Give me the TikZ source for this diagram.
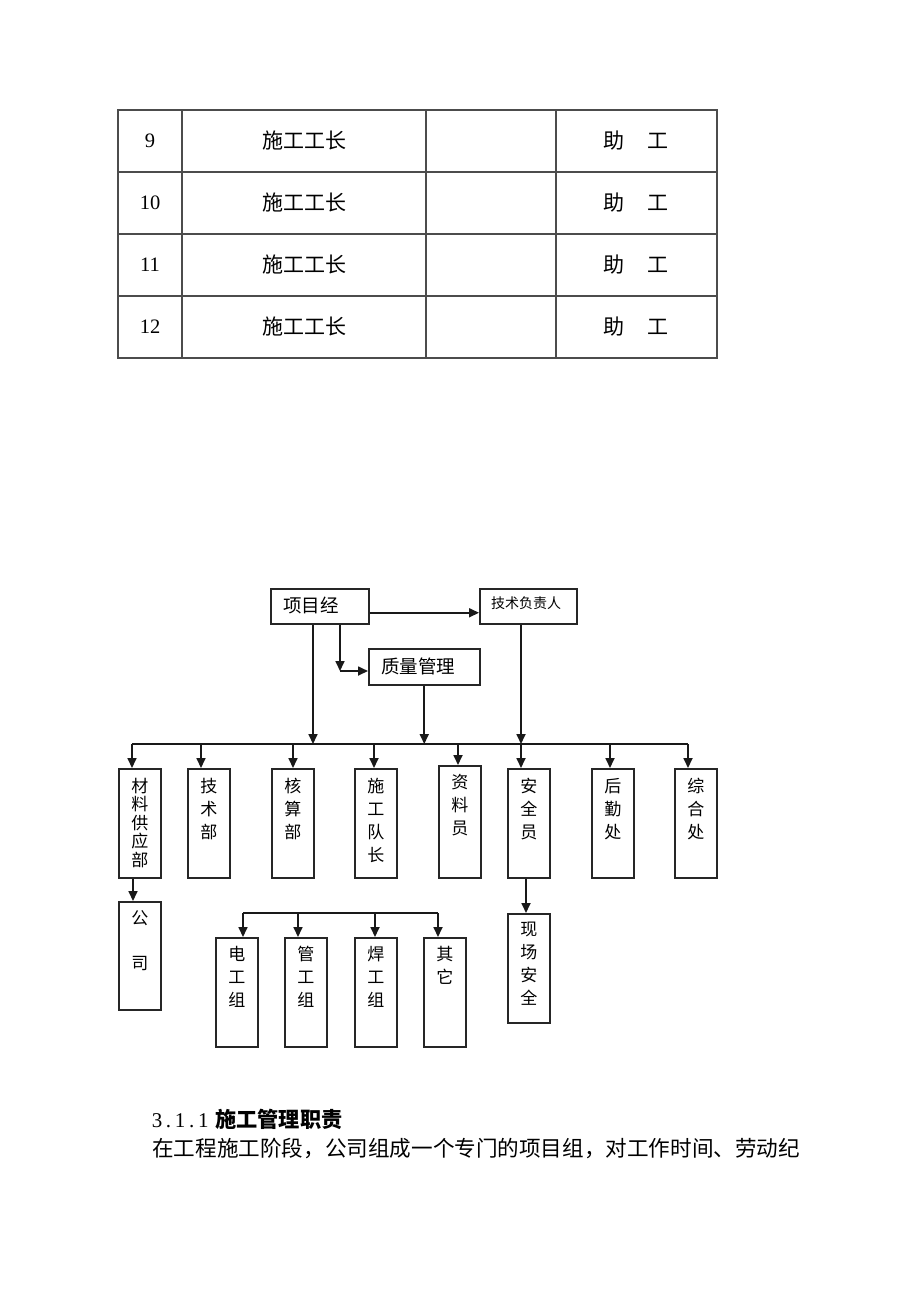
\documentclass[tikz,border=0pt]{standalone}
\usepackage{fontspec}
\setmainfont{Liberation Serif}
\newfontfamily\cjk{Noto Sans CJK SC}
\usetikzlibrary{arrows.meta}
\newcommand\hwc[1]{\makebox[11.6pt][c]{#1}}
\begin{document}
\begin{tikzpicture}[x=1pt,y=-1pt,
  ln/.style={line width=1.7pt, black!90},
  arr/.style={ln, -{Triangle[length=10pt,width=9pt]}},
  bx/.style={draw, line width=1.5pt, black!85, inner sep=0pt, anchor=north west},
  vb/.style={bx, minimum width=42pt, minimum height=109pt},
  vt/.style={font=\cjk\fontsize{17}{23}\selectfont, align=center, inner sep=0pt, anchor=north},
  tb/.style={line width=1.15pt, black!70},
  tnum/.style={font=\fontsize{20.5}{20.5}\selectfont, inner sep=0pt},
  tcj/.style={font=\cjk\fontsize{21}{21}\selectfont, inner sep=0pt}
]
\useasboundingbox (0,0) rectangle (920,1302);
\fill[white] (0,0) rectangle (920,1302);

% ---------- table ----------
\draw[tb] (118,110) rectangle (717,358);
\foreach \y in {172,234,296} \draw[tb] (118,\y) -- (717,\y);
\foreach \x in {182,426,556} \draw[tb] (\x,110) -- (\x,358);
\foreach \n/\y in {9/141,10/203,11/265,12/327} {
  \node[tnum] (num\n) at (150,\y) {\n};
  \node[tcj] (job\n) at (304,\y) {施工工长};
  \node[tcj] (rank\n) at (636,\y) {助\hspace{1.05em}工};
}

% ---------- top of chart ----------
\node[bx, minimum width=98pt, minimum height=35pt] (pm) at (270,588) {};
\node[font=\cjk\fontsize{18.5}{18.5}\selectfont, anchor=west, inner sep=0pt] (pmt) at (283,605) {项目经};
\node[bx, minimum width=97pt, minimum height=35pt] (tech) at (479,588) {};
\node[font=\cjk\fontsize{14}{14}\selectfont, inner sep=0pt] (techt) at (526,603) {技术负责人};
\node[bx, minimum width=111pt, minimum height=36pt] (zl) at (368,648) {};
\node[font=\cjk\fontsize{18.5}{18.5}\selectfont, anchor=west, inner sep=0pt] (zlt) at (381,666) {质量管理};

\draw[arr] ([yshift=-6.5pt]pm.east) -- ([yshift=-6.5pt]tech.west);
\coordinate (k1) at (340,671);
\draw[arr] (pm.south -| k1) -- (k1);
\draw[arr] (k1) -- (zl.west |- k1);

% bus 1
\coordinate (bL) at (132,744);
\coordinate (bR) at (688,744);
\draw[ln] (bL) -- (bR);
\coordinate (bpm) at (313,744);
\coordinate (btech) at (521,744);
\draw[arr] (pm.south -| bpm) -- (bpm);
\draw[arr] (zl.south) -- (zl.south |- bL);
\draw[arr] (tech.south -| btech) -- (btech);

% second row boxes
\node[vb] (m1) at (118,768) {};
\node[vb] (m2) at (187,768) {};
\node[vb] (m3) at (271,768) {};
\node[vb] (m4) at (354,768) {};
\node[vb, minimum height=112pt] (m5) at (438,765) {};
\node[vb] (m6) at (507,768) {};
\node[vb] (m7) at (591,768) {};
\node[vb] (m8) at (674,768) {};

\foreach \i/\x in {1/132,2/201,3/293,4/374,5/458,6/521,7/610,8/688} {
  \coordinate (t\i) at (\x,744);
  \draw[arr] (t\i) -- (m\i.north -| t\i);
}

\node[vt, font=\cjk\fontsize{17}{18.5}\selectfont] at ([yshift=-10pt]m1.north) {材\\料\\供\\应\\部};
\node[vt] at ([yshift=-10pt]m2.north) {技\\术\\部};
\node[vt] at ([yshift=-10pt]m3.north) {核\\算\\部};
\node[vt] at ([yshift=-10pt]m4.north) {施\\工\\队\\长};
\node[vt] at ([yshift=-9pt]m5.north) {资\\料\\员};
\node[vt] at ([yshift=-10pt]m6.north) {安\\全\\员};
\node[vt] at ([yshift=-10pt]m7.north) {后\\勤\\处};
\node[vt] at ([yshift=-10pt]m8.north) {综\\合\\处};

% lower boxes
\node[vb, minimum height=108pt] (gs) at (118,901) {};
\node[vt] at ([yshift=-9pt]gs.north) {公\\[22pt]司};
\coordinate (g1) at (133,877);
\draw[arr] (m1.south -| g1) -- (gs.north -| g1);

\node[vb] (xc) at (507,913) {};
\node[vt] at ([yshift=-9pt]xc.north) {现\\场\\安\\全};
\coordinate (x1) at (526,877);
\draw[arr] (m6.south -| x1) -- (xc.north -| x1);

% bus 2
\coordinate (c1) at (243,913);
\coordinate (c2) at (298,913);
\coordinate (c3) at (375,913);
\coordinate (c4) at (438,913);
\draw[ln] (c1) -- (c4);
\node[vb] (d1) at (215,937) {};
\node[vb] (d2) at (284,937) {};
\node[vb] (d3) at (354,937) {};
\node[vb] (d4) at (423,937) {};
\foreach \i in {1,2,3,4} \draw[arr] (c\i) -- (d\i.north -| c\i);
\node[vt] at ([yshift=-9pt]d1.north) {电\\工\\组};
\node[vt] at ([yshift=-9pt]d2.north) {管\\工\\组};
\node[vt] at ([yshift=-9pt]d3.north) {焊\\工\\组};
\node[vt] at ([yshift=-9pt]d4.north) {其\\它};

% ---------- text ----------
\node[anchor=west, inner sep=0pt] (head) at (151,1119) {\fontsize{21}{21}\selectfont \hwc{3}\hwc{.}\hwc{1}\hwc{.}\hwc{1}\hspace{6pt}\cjk\bfseries\fontsize{21.2}{21.2}\selectfont 施工管理职责};
\node[anchor=west, inner sep=0pt, font=\cjk\fontsize{21.6}{21.6}\selectfont] (para) at (152,1149) {在工程施工阶段，公司组成一个专门的项目组，对工作时间、劳动纪};
\end{tikzpicture}
\end{document}
